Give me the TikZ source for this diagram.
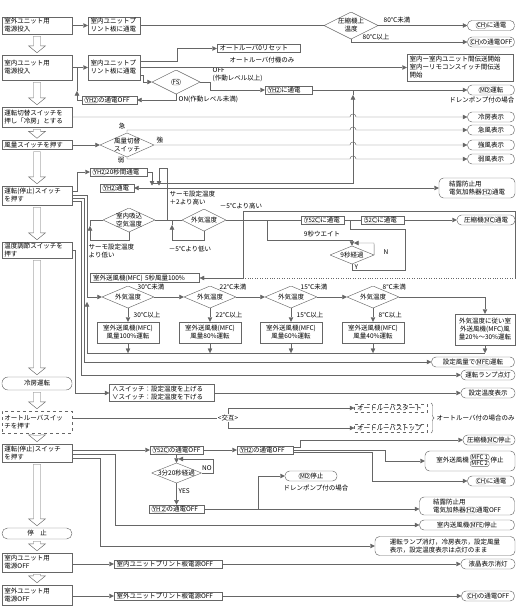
\documentclass[tikz,border=0pt]{standalone}
\usepackage{fontspec}
\setmainfont{Noto Sans CJK JP}
\usetikzlibrary{arrows.meta,calc,decorations.pathreplacing}

% Small oval round a device name
\newcommand{\ov}[1]{\tikz[baseline=(ovn.base)]\node[draw=black!60,solid,line width=0.4pt,rounded corners=2.5pt,
  inner xsep=1.2pt,inner ysep=0.7pt,minimum width=0pt,minimum height=0pt,text width={},fill=none,path picture={},
  font=\fontsize{6}{6.5}\selectfont](ovn){#1};}

% Hollow arrow between two steps of the left column
\newcommand{\bigarrow}[2]{%
  \path[draw=black!60,line width=0.45pt,fill=white] let \p1=(#1.south), \p2=(#2.north) in
    (\x1-3.5pt,\y1-2pt) -- (\x1+3.5pt,\y1-2pt) -- (\x1+3.5pt,\y2+9pt) -- (\x1+8.5pt,\y2+9pt)
    -- (\x1,\y2+2pt) -- (\x1-8.5pt,\y2+9pt) -- (\x1-3.5pt,\y2+9pt) -- cycle;}

\begin{document}
\begin{tikzpicture}[x=1pt,y=-1pt,
    every node/.style={font=\fontsize{6.5}{8}\selectfont},
    line/.style={draw=black!60,line width=0.45pt},
    arr/.style={line,-{Triangle[length=4.5pt,width=4.5pt]}},
    box/.style={line,inner xsep=2.5pt,inner ysep=1pt,align=left,text width=#1},
    term/.style={line,rounded corners=4.5pt,inner sep=1pt,align=center,minimum width=#1,minimum height=10pt},
    dia/.style={inner sep=0pt,align=center,minimum width=#1,
      path picture={\draw[black!60,line width=0.45pt] (path picture bounding box.west) -- (path picture bounding box.north)
        -- (path picture bounding box.east) -- (path picture bounding box.south) -- cycle;}},
    lab/.style={inner sep=0.5pt}]
\useasboundingbox (0,0) rectangle (519,608);

% Draw the steps of the left column
\node[box=65pt,minimum height=17pt] (pwrout) at (37,25.5) {室外ユニット用\\電源投入};
\node[box=65pt,minimum height=25pt] (pwrin) at (37,67.5) {室内ユニット用\\電源投入};
\node[box=65pt,minimum height=20pt] (modesw) at (37,117) {運転切替スイッチを\\押し「冷房」とする};
\node[box=65pt,minimum height=9pt] (fansw) at (37,145) {風量スイッチを押す};
\node[box=65pt,minimum height=19pt] (runsw) at (37,195.5) {運転(停止)スイッチ\\を押す};
\node[box=65pt,minimum height=16pt] (tempsw) at (37,250) {温度調節スイッチを\\押す};
\node[term=70pt,minimum height=13pt,rounded corners=6pt] (cool) at (37,383.5) {冷房運転};
\node[box=65pt,dashed,minimum height=22pt] (louvsw) at (37,422) {オートルーバスイッ\\チを押す};
\node[box=65pt,minimum height=18pt] (stopsw) at (37,453) {運転(停止)スイッチ\\を押す};
\node[term=70pt,minimum height=11pt,rounded corners=5.5pt] (stop) at (37,533.5) {停　止};
\node[box=65pt,minimum height=19pt] (offin) at (37,562.5) {室内ユニット用\\電源OFF};
\node[box=65pt,minimum height=20pt] (offout) at (37,595) {室外ユニット用\\電源OFF};

\bigarrow{pwrout}{pwrin}
\bigarrow{pwrin}{modesw}
\bigarrow{modesw}{fansw}
\bigarrow{fansw}{runsw}
\bigarrow{runsw}{tempsw}
\bigarrow{tempsw}{cool}
\bigarrow{cool}{louvsw}
\bigarrow{louvsw}{stopsw}
\bigarrow{stopsw}{stop}
\bigarrow{stop}{offin}
\bigarrow{offin}{offout}

% Power on
\node[box=47pt,minimum height=17pt] (pcbon1) at (114,25.5) {室内ユニットプ\\リント板に通電};
\node[box=47pt,minimum height=25pt] (pcbon2) at (114,67.5) {室内ユニットプ\\リント板に通電};
\node[dia=54pt,minimum height=27pt] (comptemp) at (351,25.5) {圧縮機上\\温度};
\node[term=47pt] (chon) at (491,25.5) {\ov{CH}に通電};
\node[term=47pt] (choff) at (491,42) {\ov{CH}の通電OFF};
\node[lab,anchor=south west] (lt80) at (383,24) {80℃未満};
\node[lab,anchor=south west] (ge80) at (362,41) {80℃以上};
\node[box=78pt] (louvreset) at (258.5,48.5) {オートルーバ0リセット};
\node[lab] (louvnote) at (262,60) {オートルーバ付機のみ};
\node[box=101pt,minimum height=27pt] (link) at (460,67.5) {室内ー室内ユニット間伝送開始\\室内ーリモコンスイッチ間伝送\\開始};
\node[dia=48pt,minimum height=24pt] (fs) at (176,82) {\ov{FS}};
\node[lab,anchor=west,align=left] (fsoff) at (212,75) {OFF\\(作動レベル以上)};
\node[lab,anchor=west] (fson) at (178,99) {ON(作動レベル未満)};
\node[box=42pt] (yh2on) at (288.5,90) {\ov{YH2}に通電};
\node[box=50pt] (yh2cut) at (109.5,100) {\ov{YH2}の通電OFF};
\node[term=47pt] (mdrun) at (491,90) {\ov{MD}運転};
\node[lab,anchor=east] (mdnote1) at (515,100.5) {ドレンポンプ付の場合};

\draw[arr] (pwrout) -- (pcbon1);
\draw[line] (pcbon1) -- (comptemp);
\draw[arr] (comptemp.east) -- (chon.west);
\draw[arr] (comptemp.south) |- (choff.west);
\draw[arr] (pwrin) -- (pcbon2);
\draw[arr] ([yshift=6.5pt]pcbon2.east) -- (177,61) |- (louvreset.west);
\draw[arr] (pcbon2) -- (link);
\draw[arr] ([yshift=-8pt]pcbon2.east) -- (143,75.5) |- (fs.west);
\draw[arr] (fs.east) -- (210,82) |- (yh2on.west);
\draw[arr] (fs.south) |- (yh2cut.east);
\draw[arr] (yh2cut.west) -| (77,91);
\draw[line] (77,91) -- (77,67.5);
\draw[arr] (yh2on) -- (mdrun);

% Display lamps
\node[term=47pt] (coolled) at (491,117) {冷房表示};
\node[term=47pt] (turbo) at (491,130) {急風表示};
\node[term=47pt] (high) at (491,145) {強風表示};
\node[term=47pt] (low) at (491,159) {弱風表示};
\node[dia=54pt,minimum height=24pt] (fansel) at (127,145) {風量切替\\スイッチ};
\node[lab,anchor=south east] (lbturbo) at (126,130) {急};
\node[lab,anchor=south west] (lbhigh) at (156,144) {強};
\node[lab,anchor=east] (lblow) at (125,160) {弱};

\draw[arr] (modesw.east) -- (350,117) arc[start angle=180,end angle=0,radius=3pt] -- (coolled.west);
\draw[arr] (fansw) -- (fansel);
\draw[arr] (fansel.north) -- (127,130) -- (350,130) arc[start angle=180,end angle=0,radius=3pt] -- (turbo.west);
\draw[arr] (fansel.east) -- (350,145) arc[start angle=180,end angle=0,radius=3pt] -- (high.west);
\draw[arr] (fansel.south) -- (127,159) -- (350,159) arc[start angle=180,end angle=0,radius=3pt] -- (low.west);

% Run switch: heater and room temperature
\node[box=52pt] (yh2first) at (118.5,172) {\ov{YH2}20秒間通電};
\node[box=29pt] (yh2run) at (117,188) {\ov{YH2}通電};
\node[term=76pt,minimum height=20pt,align=left] (heater) at (477,188) {結露防止用\\電気加熱器\ov{H2}通電};
\node[dia=52pt,minimum height=24pt] (roomtemp) at (129,220) {室内吸込\\空気温度};
\node[dia=44pt,minimum height=22pt] (outtemp) at (204,220) {外気温度};
\node[lab,anchor=north west,align=left] (plus2) at (169,190) {サーモ設定温度\\＋2より高い};
\node[lab,anchor=north west,align=left] (belowset) at (88,243) {サーモ設定温度\\より低い};
\node[lab] (above5) at (241,206) {－5℃より高い};
\node[lab] (below5) at (190,249) {－5℃より低い};

\draw[arr] ([yshift=4pt]runsw.east) -| (77,172) -- (yh2first.west);
\draw[arr] (yh2first.east) -| (152,185.5);
\draw[arr] (roomtemp.east) -- (167,220) -- (167,168.5) -| (159,185.5);
\draw[line,{Triangle[length=4.5pt,width=4.5pt]}-{Triangle[length=4.5pt,width=4.5pt]}] (yh2run.east) -- (heater.west);
\draw[arr] (152,183) -| (353,95);
\draw[line] (353,95) -- (353,90);
\draw[arr] (roomtemp.south) |- (90,240) -- (90,226);
\draw[line] (90,226) -- (90,220) -- (roomtemp.west);
\draw[line] (167,220) -- (outtemp.west);
\draw[arr] (outtemp.south) |- (172,240) -- (172,225);
\draw[line] (172,225) -- (172,220);

% Compressor start
\node[box=38pt] (y52con) at (323,220) {\ov{Y52C}に通電};
\node[box=38pt] (c52on) at (383,220) {\ov{52C}に通電};
\node[term=58pt] (mcrun) at (486,220) {圧縮機\ov{MC}通電};
\node[lab] (wait9) at (322,234) {9秒ウエイト};
\node[dia=44pt,minimum height=18pt] (pass9) at (352,255) {9秒経過};
\node[lab] (lbn) at (386,252) {N};
\node[lab,anchor=west] (lby) at (354,267) {Y};
\node[box=104pt] (mfcstart) at (145,278) {室外送風機(MFC) 5秒風量100\%};

\draw[line] (243,211) -- (515,211) -- (515,278);
\draw[line,dotted] (515,278) -- (243,278);
\draw[arr] (243,211) -- (243,278) -- (mfcstart.east);
\draw[line] (outtemp.east) -- (y52con.west);
\draw[line] (y52con) -- (c52on);
\draw[arr] (c52on) -- (mcrun);
\draw[arr] (267,220) |- (352,240) -- (pass9.north);
\draw[arr] (pass9.east) -- (374,243) -- (354,243);
\draw[line] (pass9.south) -- (352,270) -- (405,270) -- (405,229) -- (350,229) -- (350,220);

% Outdoor fan
\node[dia=52pt,minimum height=22pt] (otemp1) at (128,297) {外気温度};
\node[dia=52pt,minimum height=22pt] (otemp2) at (210,297) {外気温度};
\node[dia=52pt,minimum height=22pt] (otemp3) at (291,297) {外気温度};
\node[dia=52pt,minimum height=22pt] (otemp4) at (373,297) {外気温度};
\node[box=57pt,align=center,minimum height=21pt] (mfc100) at (128,332.5) {室外送風機(MFC)\\風量100\%運転};
\node[box=57pt,align=center,minimum height=21pt] (mfc80) at (210,332.5) {室外送風機(MFC)\\風量80\%運転};
\node[box=57pt,align=center,minimum height=21pt] (mfc60) at (291,332.5) {室外送風機(MFC)\\風量60\%運転};
\node[box=57pt,align=center,minimum height=21pt] (mfc40) at (373,332.5) {室外送風機(MFC)\\風量40\%運転};
\node[box=55pt,align=center,minimum height=31pt] (mfcvar) at (485,329.5) {外気温度に従い室\\外送風機(MFC)風\\量20\%～30\%運転};
\coordinate (fanloop) at (87,353);

\foreach \d/\t in {otemp1/30,otemp2/22,otemp3/15,otemp4/8} {
  \node[lab,anchor=west] (lt\t) at ($(\d.north)+(9,1)$) {\t℃未満};
  \node[lab,anchor=west] (ge\t) at ($(\d.south)+(5,7)$) {\t℃以上};
}
\draw[arr] (runsw.east) -| (87,297) -- (otemp1.west);
\draw[arr] (fanloop) -- (87,302);
\draw[line] (fanloop) -- (fanloop -| mfcvar.south);
\draw[arr] (otemp1) -- (otemp2);
\draw[arr] (otemp2) -- (otemp3);
\draw[arr] (otemp3) -- (otemp4);
\draw[arr] (otemp4.east) -| (mfcvar.north);
\foreach \d/\f in {otemp1/mfc100,otemp2/mfc80,otemp3/mfc60,otemp4/mfc40} {
  \draw[arr] (\d.south) -- (\f.north);
}
\foreach \f in {mfc100,mfc80,mfc60,mfc40,mfcvar} {
  \draw[arr] (\f.south) -- (\f.south |- fanloop);
}

% Indoor fan, lamp and set temperature
\node[term=83pt] (mferun) at (473,362) {設定風量で\ov{MFE}運転};
\node[term=54pt] (lampon) at (488,375) {運転ランプ点灯};
\node[box=100pt,minimum height=17pt] (updown) at (162,393) {∧スイッチ：設定温度を上げる\\∨スイッチ：設定温度を下げる};
\node[term=54pt] (tempshow) at (488,393) {設定温度表示};

\draw[arr] ([yshift=-3pt]runsw.east) -| (84,362) -- (mferun.west);
\draw[arr] ([yshift=-6pt]runsw.east) -| (81,375) -- (lampon.west);
\draw[arr] (tempsw.east) -- (75,250) |- (updown.west);
\draw[arr] (updown) -- (tempshow);

% Auto louver
\node[box=68pt,dashed] (louvstart) at (391,408) {オートルーバスタート};
\node[box=68pt,dashed] (louvstop) at (391,428) {オートルーバストップ};
\node[lab,anchor=west] (louvnote2) at (436,418) {オートルーバ付の場合のみ};
\coordinate (altfork) at (228,418);

\draw[line] ([yshift=4pt]louvsw.east) -- (altfork);
\draw[line] (228,408) -- (228,428);
\draw[arr] (228,408) -- (louvstart.west);
\draw[arr] (228,428) -- (louvstop.west);
\node[lab,fill=white] (alt) at (altfork) {<交互>};
\draw[line,decorate,decoration={brace,amplitude=3pt}] (431,403) -- (431,433);

% Stop
\node[box=48pt] (y52cut) at (176.5,450) {\ov{Y52C}の通電OFF};
\node[box=51pt] (yh2stop) at (265,450) {\ov{YH2}の通電OFF};
\node[dia=50pt,minimum height=20pt] (wait320) at (176.5,473) {3分20秒経過};
\node[lab] (lbno) at (207,468) {NO};
\node[lab,anchor=west] (lbyes) at (178,491) {YES};
\node[box=50pt] (yh2stop2) at (176.5,509) {\ov{YH 2}の通電OFF};
\node[term=52pt] (mcstop) at (489,440) {圧縮機\ov{MC}停止};
\node[term=90pt,minimum height=20pt] (mfcstop) at (470,461) {室外送風機\,%
  \begin{tabular}[c]{@{}c@{}}\ov{MFC 1}\\[-1.5pt]\ov{MFC 2}\end{tabular}\,停止};
\node[term=47pt] (chon2) at (491,481) {\ov{CH}に通電};
\node[term=52pt] (mdstop) at (311,476) {\ov{MD}停止};
\node[lab] (mdnote2) at (316,488) {ドレンポンプ付の場合};
\node[term=95pt,minimum height=18pt,align=left] (heateroff) at (467,506) {結露防止用\\電気加熱器\ov{H2}通電OFF};
\node[term=95pt] (mfestop) at (467,525) {室内送風機\ov{MFE}停止};
\node[term=140pt,minimum height=19pt,align=left] (lampoff) at (445,546) {運転ランプ消灯，冷房表示，設定風量\\表示，設定温度表示は点灯のまま};
\node[term=54pt] (lcdoff) at (488,564) {液晶表示消灯};

\draw[arr] (stopsw.east |- y52cut.west) -- (y52cut.west);
\draw[arr] (y52cut) -- (yh2stop);
\draw[arr] (y52cut) -- (wait320);
\draw[arr] (wait320.east) -- (213,473) -- (213,459) -- (178.5,459);
\draw[arr] (wait320) -- (yh2stop2);
\draw[arr] (yh2stop2.east) -- (258,509) |- (mdstop.west);
\draw[arr] (yh2stop2.east) -- (yh2stop2.east -| heateroff.west);
\draw[arr] ([yshift=2.5pt]yh2stop.east) -- (300,447.5) |- (mcstop.west);
\draw[arr] (yh2stop.east) -- (385,450) |- (mfcstop.west);
\draw[arr] ([yshift=-2.5pt]yh2stop.east) -- (372,452.5) |- (chon2.west);
\draw[arr] ([yshift=-1pt]stopsw.east) -| (115,525) -- (mfestop.west);
\draw[arr] ([yshift=-5pt]stopsw.east) -| (100,546) -- (lampoff.west);

% Power off
\node[box=103pt] (pcboff1) at (168,564) {室内ユニットプリント板電源OFF};
\node[box=103pt] (pcboff2) at (168,596) {室外ユニットプリント板電源OFF};
\node[term=53pt] (choff2) at (488,596) {\ov{CH}の通電OFF};

\draw[arr] (offin.east |- pcboff1.west) -- (pcboff1.west);
\draw[arr] (pcboff1) -- (lcdoff);
\draw[arr] (offout.east |- pcboff2.west) -- (pcboff2.west);
\draw[arr] (pcboff2) -- (choff2);
\end{tikzpicture}
\end{document}
